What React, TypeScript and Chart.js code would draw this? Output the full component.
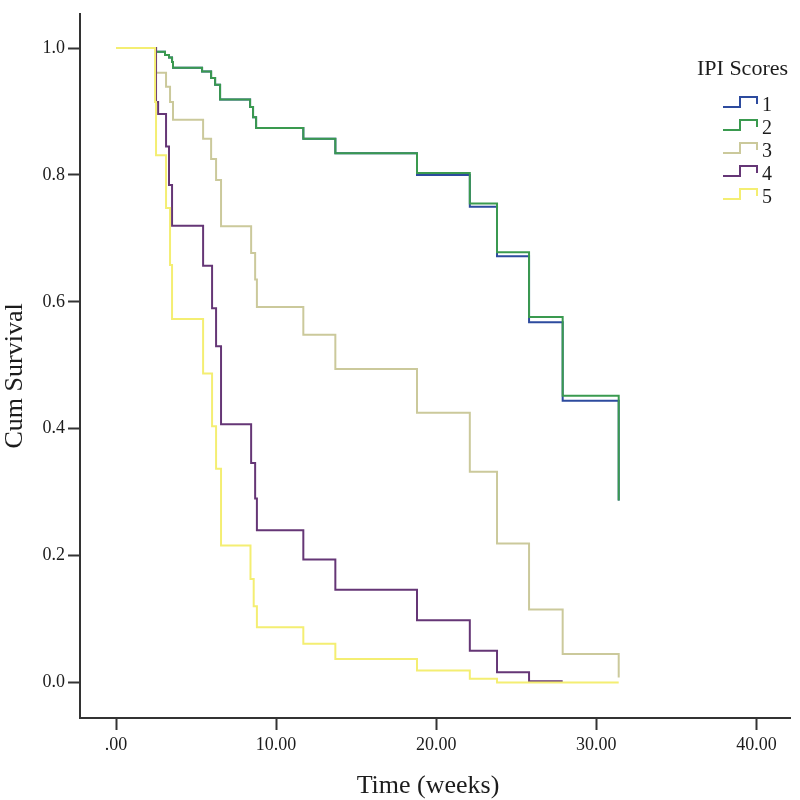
import React, { useEffect, useRef } from "react";
import { Chart, registerables } from "chart.js";

Chart.register(...registerables);

// ---- data ----
const seriesNames = ["1", "2", "3", "4", "5"];
const seriesColors = ["#2d4b9e", "#3a9a4f", "#cbc99b", "#653676", "#f4ee72"];

const times1 = [0, 2.5, 3.06, 3.31, 3.5, 3.56, 5.375, 5.94, 6.19, 6.5, 8.375, 8.56, 8.75, 11.7, 13.7, 18.8, 22.1, 23.8, 25.8, 27.9, 31.4];
const surv1 = [1.0, 0.994, 0.989, 0.985, 0.978, 0.969, 0.963, 0.953, 0.942, 0.919, 0.907, 0.891, 0.874, 0.857, 0.834, 0.8, 0.75, 0.672, 0.568, 0.444, 0.287];

const times2 = [0, 2.5, 3.06, 3.31, 3.5, 3.56, 5.375, 5.94, 6.19, 6.5, 8.375, 8.56, 8.75, 11.7, 13.7, 18.8, 22.1, 23.8, 25.8, 27.9, 31.4];
const surv2 = [1.0, 0.994, 0.989, 0.985, 0.978, 0.969, 0.963, 0.953, 0.942, 0.919, 0.907, 0.891, 0.874, 0.857, 0.834, 0.803, 0.755, 0.678, 0.576, 0.452, 0.287];

const times3 = [0, 2.5, 3.125, 3.375, 3.56, 5.44, 5.94, 6.25, 6.56, 8.44, 8.69, 8.8, 11.7, 13.7, 18.8, 22.1, 23.8, 25.8, 27.9, 31.4];
const surv3 = [1.0, 0.961, 0.939, 0.915, 0.887, 0.857, 0.825, 0.792, 0.719, 0.677, 0.635, 0.592, 0.548, 0.494, 0.425, 0.332, 0.219, 0.115, 0.045, 0.008];

const times4 = [0, 2.5, 2.63, 3.125, 3.31, 3.5, 5.44, 6.0, 6.25, 6.56, 8.44, 8.69, 8.8, 11.7, 13.7, 18.8, 22.1, 23.8, 25.8, 27.9];
const surv4 = [1.0, 0.915, 0.896, 0.845, 0.784, 0.72, 0.657, 0.59, 0.53, 0.407, 0.346, 0.29, 0.24, 0.194, 0.146, 0.098, 0.05, 0.016, 0.002, 0.002];

const times5 = [0, 2.44, 2.5, 3.125, 3.375, 3.5, 5.44, 6.0, 6.25, 6.56, 8.4, 8.6, 8.8, 11.7, 13.7, 18.8, 22.1, 23.8, 31.4];
const surv5 = [1.0, 0.915, 0.831, 0.748, 0.658, 0.573, 0.487, 0.404, 0.337, 0.216, 0.163, 0.12, 0.087, 0.061, 0.037, 0.019, 0.006, 0.0, 0.0];

const allTimes = [times1, times2, times3, times4, times5];
const allSurv = [surv1, surv2, surv3, surv4, surv5];

const xTickValues = [0, 10, 20, 30, 40];
const xTickLabels = [".00", "10.00", "20.00", "30.00", "40.00"];
const yTickValues = [0, 0.2, 0.4, 0.6, 0.8, 1.0];
const yTickLabels = ["0.0", "0.2", "0.4", "0.6", "0.8", "1.0"];

const xTitle = "Time (weeks)";
const yTitle = "Cum Survival";
const legendTitle = "IPI Scores";

const FONT = '"Liberation Serif", "Times New Roman", serif';
const TEXT = "#1c1c1c";
const AXIS = "#333333";

const titlesAndLegend = {
  id: "titlesAndLegend",
  afterDraw(chart: any) {
    const ctx = chart.ctx;
    const area = chart.chartArea;
    ctx.save();
    ctx.fillStyle = TEXT;
    // axis titles
    ctx.font = `26px ${FONT}`;
    ctx.textAlign = "center";
    ctx.textBaseline = "middle";
    ctx.fillText(xTitle, (area.left + area.right) / 2 - 7, 786);
    ctx.save();
    ctx.translate(15, (area.top + area.bottom) / 2 + 10);
    ctx.rotate(-Math.PI / 2);
    ctx.fillText(yTitle, 0, 0);
    ctx.restore();

    // legend
    ctx.textAlign = "left";
    ctx.textBaseline = "alphabetic";
    ctx.font = `22px ${FONT}`;
    ctx.fillText(legendTitle, 697, 75);
    ctx.font = `20px ${FONT}`;
    chart.data.datasets.forEach((ds: any, i: number) => {
      const base = 107 + 23 * i;
      ctx.strokeStyle = ds.borderColor;
      ctx.lineWidth = 2;
      ctx.beginPath();
      ctx.moveTo(723, base);
      ctx.lineTo(740, base);
      ctx.lineTo(740, base - 10);
      ctx.lineTo(757, base - 10);
      ctx.lineTo(757, base - 3);
      ctx.stroke();
      ctx.fillStyle = TEXT;
      ctx.fillText(ds.label, 762, base + 4);
    });
    ctx.restore();
  },
};

export default function App() {
  const canvasRef = useRef<HTMLCanvasElement | null>(null);

  useEffect(() => {
    document.body.style.margin = "0";
    const canvas = canvasRef.current;
    if (!canvas) return;

    const datasets = seriesNames.map((name, i) => ({
      label: name,
      data: allTimes[i].map((t, k) => ({ x: t, y: allSurv[i][k] })),
      borderColor: seriesColors[i],
      backgroundColor: seriesColors[i],
      borderWidth: 2,
      pointRadius: 0,
      pointHoverRadius: 0,
      stepped: true,
      fill: false,
      tension: 0,
      order: seriesNames.length - i,
    }));

    const chart = new Chart(canvas, {
      type: "line",
      data: { datasets },
      options: {
        animation: false,
        responsive: false,
        devicePixelRatio: 1,
        layout: { padding: { top: 3, right: 10, left: 0, bottom: 0 } },
        plugins: {
          legend: { display: false },
          tooltip: { enabled: false },
          title: { display: false },
        },
        scales: {
          x: {
            type: "linear",
            min: -2.25,
            max: 42.1,
            grid: {
              drawOnChartArea: false,
              drawTicks: true,
              tickLength: 12,
              tickColor: AXIS,
              tickWidth: 2,
            },
            border: { display: true, color: AXIS, width: 2 },
            ticks: {
              autoSkip: false,
              maxRotation: 0,
              padding: 4,
              color: TEXT,
              font: { family: FONT, size: 18 },
              callback: (v: any) => {
                const idx = xTickValues.indexOf(Number(v));
                return idx >= 0 ? xTickLabels[idx] : "";
              },
            },
            afterBuildTicks: (scale: any) => {
              scale.ticks = xTickValues.map((v) => ({ value: v }));
            },
            afterFit: (scale: any) => {
              scale.height = 82;
            },
          },
          y: {
            type: "linear",
            min: -0.056,
            max: 1.054,
            grid: {
              drawOnChartArea: false,
              drawTicks: true,
              tickLength: 12,
              tickColor: AXIS,
              tickWidth: 2,
            },
            border: { display: true, color: AXIS, width: 2 },
            ticks: {
              autoSkip: false,
              padding: 3,
              color: TEXT,
              font: { family: FONT, size: 18 },
              callback: (v: any) => {
                const n = Number(v);
                const idx = yTickValues.findIndex((t) => Math.abs(t - n) < 1e-6);
                return idx >= 0 ? yTickLabels[idx] : "";
              },
            },
            afterBuildTicks: (scale: any) => {
              scale.ticks = yTickValues.map((v) => ({ value: v }));
            },
            afterFit: (scale: any) => {
              scale.width = 80;
            },
          },
        },
      },
      plugins: [titlesAndLegend],
    });

    return () => {
      chart.destroy();
    };
  }, []);

  return (
    <div style={{ width: 800, height: 800, background: "#ffffff" }}>
      <canvas ref={canvasRef} width={800} height={800} style={{ display: "block" }} />
    </div>
  );
}
